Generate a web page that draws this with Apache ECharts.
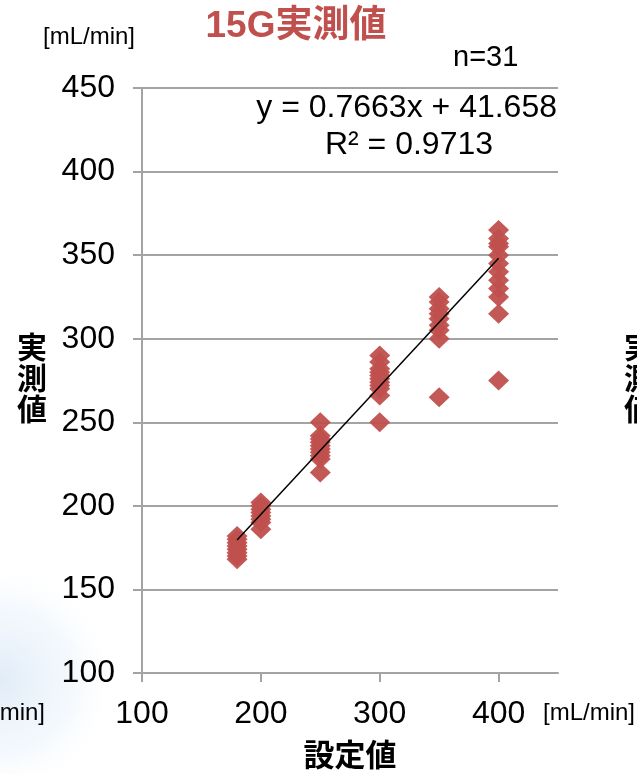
<!DOCTYPE html>
<html>
<head>
<meta charset="utf-8">
<title>15G実測値</title>
<script src="https://cdn.jsdelivr.net/npm/echarts@6.0.0/dist/echarts.min.js"></script>
<style>
  html, body { margin: 0; padding: 0; background: #ffffff; }
  #chart { width: 637px; height: 774px; }
</style>
</head>
<body>
<div id="chart"></div>
<script>
// Set flow rate (x) and the measured flow rates recorded at each setting (y), in mL/min
const setFlow = [180, 200, 250, 300, 350, 400];
const measured180 = [168, 170, 172, 174, 176, 178, 180, 182];
const measured200 = [186, 190, 192, 194, 196, 198, 200, 202];
const measured250 = [220, 228, 230, 232, 234, 236, 238, 240, 242, 250];
const measured300 = [250, 266, 270, 272, 274, 276, 278, 280, 282, 286, 290];
const measured350 = [265, 300, 305, 308, 312, 315, 318, 322, 325];
const measured400 = [275, 315, 325, 330, 335, 340, 345, 350, 355, 357, 360, 365];

// Linear trendline as reported on the chart
const trendSlope = 0.7663;
const trendIntercept = 41.658;
const trendR2 = 0.9713;
const sampleCount = 31;

// Axis ticks
const xTicks = [100, 200, 300, 400];
const yTicks = [100, 150, 200, 250, 300, 350, 400, 450];

const measuredBySetting = [measured180, measured200, measured250, measured300, measured350, measured400];
const points = [];
setFlow.forEach(function (x, i) {
  measuredBySetting[i].forEach(function (y) { points.push([x, y]); });
});

const xFirst = setFlow[0];
const xLast = setFlow[setFlow.length - 1];
const trendLine = [
  [xFirst, trendSlope * xFirst + trendIntercept],
  [xLast, trendSlope * xLast + trendIntercept]
];

const LATIN = '"Liberation Sans", Arial, "Noto Sans CJK JP", sans-serif';
const JP = '"Liberation Sans", "Noto Sans CJK JP", sans-serif';
const RED = '#C0504D';
const GRID_GREY = '#a3a3a3';

const chart = echarts.init(document.getElementById('chart'), null, { renderer: 'canvas' });

const option = {
  backgroundColor: '#ffffff',
  animation: false,
  grid: {
    left: 142, top: 88, right: 79, bottom: 101,
    containLabel: false,
    outerBoundsMode: 'none'
  },
  xAxis: {
    type: 'value',
    min: xTicks[0],
    max: 450,
    interval: 100,
    axisLine: { show: true, onZero: false, lineStyle: { color: GRID_GREY, width: 2 } },
    axisTick: { show: true, inside: false, length: 9, customValues: xTicks, lineStyle: { color: GRID_GREY, width: 2 } },
    axisLabel: {
      show: true, margin: 25, color: '#000', fontFamily: LATIN, fontSize: 32,
      customValues: xTicks
    },
    splitLine: { show: false }
  },
  yAxis: {
    type: 'value',
    min: yTicks[0],
    max: yTicks[yTicks.length - 1],
    interval: 50,
    axisLine: { show: true, onZero: false, lineStyle: { color: GRID_GREY, width: 2 } },
    axisTick: { show: true, inside: false, length: 9, lineStyle: { color: GRID_GREY, width: 2 } },
    axisLabel: { show: true, margin: 27, color: '#000', fontFamily: LATIN, fontSize: 32 },
    splitLine: { show: true, lineStyle: { color: GRID_GREY, width: 2 } }
  },
  series: [
    {
      name: '実測値',
      type: 'scatter',
      data: points,
      symbol: 'diamond',
      symbolSize: [21, 20],
      itemStyle: { color: RED, opacity: 0.95 },
      z: 3
    },
    {
      name: '線形近似',
      type: 'line',
      data: trendLine,
      symbol: 'none',
      lineStyle: { color: '#000', width: 1.5 },
      z: 5
    }
  ],
  graphic: [
    // pale blue glow of the slide background, lower left
    {
      type: 'rect', z: -10, silent: true,
      shape: { x: 0, y: 0, width: 637, height: 774 },
      style: {
        fill: new echarts.graphic.RadialGradient(0, 680, 120, [
          { offset: 0, color: 'rgba(214,230,246,0.75)' },
          { offset: 0.6, color: 'rgba(230,240,250,0.45)' },
          { offset: 1, color: 'rgba(255,255,255,0)' }
        ], true)
      }
    },
    {
      type: 'text', x: 296, y: 27,
      style: { text: '15G実測値', fill: RED, font: 'bold 37px ' + JP, align: 'center', verticalAlign: 'middle' }
    },
    {
      type: 'text', x: 43, y: 37,
      style: { text: '[mL/min]', fill: '#000', font: '24px ' + LATIN, verticalAlign: 'middle' }
    },
    {
      type: 'text', x: 453, y: 58,
      style: { text: 'n=' + sampleCount, fill: '#000', font: '29px ' + LATIN, verticalAlign: 'middle' }
    },
    {
      type: 'text', x: 557, y: 108,
      style: {
        text: 'y = ' + trendSlope + 'x + ' + trendIntercept,
        fill: '#000', font: '32px ' + LATIN, align: 'right', verticalAlign: 'middle'
      }
    },
    {
      type: 'text', x: 409, y: 145,
      style: {
        text: 'R² = ' + trendR2,
        fill: '#000', font: '32px ' + LATIN, align: 'center', verticalAlign: 'middle'
      }
    },
    // y-axis title, stacked vertically
    {
      type: 'text', x: 32, y: 381,
      style: {
        text: '実\n測\n値', fill: '#000', font: 'bold 30px ' + JP,
        align: 'center', verticalAlign: 'middle', lineHeight: 31
      }
    },
    // x-axis title and unit
    {
      type: 'text', x: 350, y: 757,
      style: { text: '設定値', fill: '#000', font: 'bold 31px ' + JP, align: 'center', verticalAlign: 'middle' }
    },
    {
      type: 'text', x: 543, y: 713,
      style: { text: '[mL/min]', fill: '#000', font: '24px ' + LATIN, verticalAlign: 'middle' }
    },
    // neighbouring panel labels, cut by the page edges
    {
      type: 'text', x: 45, y: 713,
      style: { text: '[mL/min]', fill: '#000', font: '24px ' + LATIN, align: 'right', verticalAlign: 'middle' }
    },
    {
      type: 'text', x: 624, y: 381,
      style: {
        text: '実\n測\n値', fill: '#000', font: 'bold 30px ' + JP,
        align: 'left', verticalAlign: 'middle', lineHeight: 31
      }
    }
  ]
};

chart.setOption(option);
</script>
</body>
</html>
